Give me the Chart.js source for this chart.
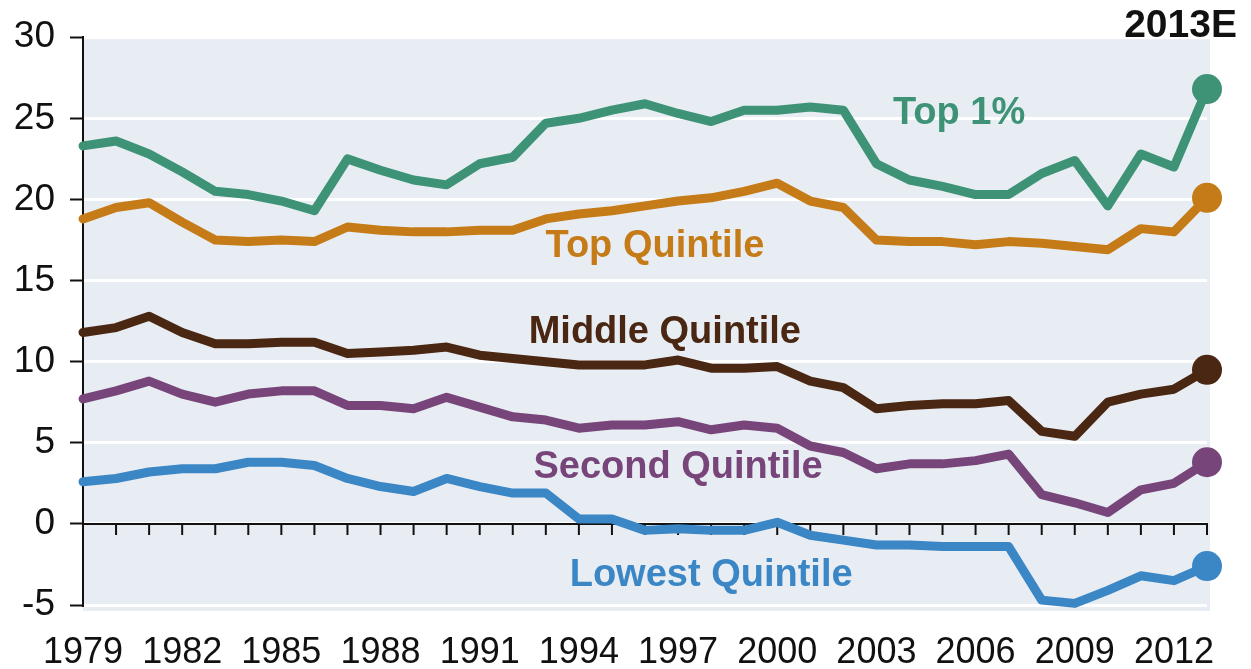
<!DOCTYPE html>
<html>
<head>
<meta charset="utf-8">
<title>Tax rates by income group</title>
<script src="https://cdn.jsdelivr.net/npm/chart.js@4"></script>
<style>
  html, body { margin: 0; padding: 0; background: #ffffff; }
  #chart-wrap { width: 1251px; height: 669px; }
</style>
</head>
<body>
<div id="chart-wrap"><canvas id="my-chart" width="1251" height="669"></canvas></div>
<script>
'use strict';

// ******** DATA **************
let years = [];
for (let y = 1979; y <= 2013; y++) {
  years.push(String(y));
}

let top1Pct = [23.3, 23.6, 22.8, 21.7, 20.5, 20.3, 19.9, 19.3, 22.5, 21.8, 21.2, 20.9,
  22.2, 22.6, 24.7, 25.0, 25.5, 25.9, 25.3, 24.8, 25.5, 25.5, 25.7, 25.5,
  22.2, 21.2, 20.8, 20.3, 20.3, 21.6, 22.4, 19.6, 22.8, 22.0, 26.8];

let topQuintile = [18.8, 19.5, 19.8, 18.6, 17.5, 17.4, 17.5, 17.4, 18.3, 18.1, 18.0, 18.0,
  18.1, 18.1, 18.8, 19.1, 19.3, 19.6, 19.9, 20.1, 20.5, 21.0, 19.9, 19.5,
  17.5, 17.4, 17.4, 17.2, 17.4, 17.3, 17.1, 16.9, 18.2, 18.0, 20.1];

let middleQuintile = [11.8, 12.1, 12.8, 11.8, 11.1, 11.1, 11.2, 11.2, 10.5, 10.6, 10.7, 10.9,
  10.4, 10.2, 10.0, 9.8, 9.8, 9.8, 10.1, 9.6, 9.6, 9.7, 8.8, 8.4,
  7.1, 7.3, 7.4, 7.4, 7.6, 5.7, 5.4, 7.5, 8.0, 8.3, 9.5];

let secondQuintile = [7.7, 8.2, 8.8, 8.0, 7.5, 8.0, 8.2, 8.2, 7.3, 7.3, 7.1, 7.8,
  7.2, 6.6, 6.4, 5.9, 6.1, 6.1, 6.3, 5.8, 6.1, 5.9, 4.8, 4.4,
  3.4, 3.7, 3.7, 3.9, 4.3, 1.8, 1.3, 0.7, 2.1, 2.5, 3.8];

let lowestQuintile = [2.6, 2.8, 3.2, 3.4, 3.4, 3.8, 3.8, 3.6, 2.8, 2.3, 2.0, 2.8,
  2.3, 1.9, 1.9, 0.3, 0.3, -0.4, -0.3, -0.4, -0.4, 0.1, -0.7, -1.0,
  -1.3, -1.3, -1.4, -1.4, -1.4, -4.7, -4.9, -4.1, -3.2, -3.5, -2.6];

let yTicks = [-5, 0, 5, 10, 15, 20, 25, 30];

// ******** STYLE **************
let fontFamily = '"Liberation Sans", Arial, Helvetica, sans-serif';
let colors = {
  top1: '#3e9377',
  top: '#c57b17',
  middle: '#4a2712',
  second: '#77457a',
  lowest: '#3b86c5'
};

// series labels, placed in data units (year, value)
let seriesLabels = [
  { text: 'Top 1%', year: 2005.5, value: 25.3, color: colors.top1 },
  { text: 'Top Quintile', year: 1996.3, value: 17.1, color: colors.top },
  { text: 'Middle Quintile', year: 1996.6, value: 11.8, color: colors.middle },
  { text: 'Second Quintile', year: 1997.0, value: 3.5, color: colors.second },
  { text: 'Lowest Quintile', year: 1998.0, value: -3.2, color: colors.lowest },
  { text: '2013E', year: 2012.2, value: 30.7, color: '#111111' }
];

// ********* HELPERS ****************
function makeSeries(label, data, color) {
  let last = data.length - 1;
  return {
    label: label,
    data: data,
    borderColor: color,
    backgroundColor: color,
    borderWidth: 9,
    borderJoinStyle: 'round',
    borderCapStyle: 'round',
    tension: 0,
    clip: false,
    pointRadius: function (ctx) { return ctx.dataIndex === last ? 15 : 0; },
    pointHoverRadius: 0,
    pointBorderWidth: 0
  };
}

// plot background, a bit wider than the chart area
let plotBackground = {
  id: 'plotBackground',
  beforeDraw: function (chart) {
    let a = chart.chartArea;
    let ctx = chart.ctx;
    ctx.save();
    ctx.fillStyle = '#e8edf4';
    ctx.fillRect(a.left, a.top + 2, a.right - a.left + 3, a.bottom - a.top + 4);
    ctx.restore();
  }
};

// x axis crossing at zero with a tick for every year
let zeroAxis = {
  id: 'zeroAxis',
  beforeDatasetsDraw: function (chart) {
    let xs = chart.scales.x;
    let ys = chart.scales.y;
    let y0 = ys.getPixelForValue(0);
    let ctx = chart.ctx;
    ctx.save();
    ctx.strokeStyle = '#111111';
    ctx.lineWidth = 2;
    ctx.beginPath();
    ctx.moveTo(xs.left, y0);
    ctx.lineTo(xs.right + 1, y0);
    for (let i = 0; i < years.length; i++) {
      let x = xs.getPixelForValue(i);
      ctx.moveTo(x, y0);
      ctx.lineTo(x, y0 + 11);
    }
    ctx.stroke();
    ctx.restore();
  }
};

let labelPlugin = {
  id: 'seriesLabels',
  afterDraw: function (chart) {
    let xs = chart.scales.x;
    let ys = chart.scales.y;
    let ctx = chart.ctx;
    ctx.save();
    ctx.textAlign = 'center';
    ctx.textBaseline = 'middle';
    for (let i = 0; i < seriesLabels.length; i++) {
      let l = seriesLabels[i];
      ctx.font = 'bold ' + (l.text === '2013E' ? 39 : 38) + 'px ' + fontFamily;
      ctx.fillStyle = l.color;
      ctx.fillText(l.text, xs.getPixelForValue(l.year - 1979), ys.getPixelForValue(l.value));
    }
    ctx.restore();
  }
};

// ********* CHART ****************
let canvasElem = document.getElementById('my-chart');

new Chart(canvasElem, {
  type: 'line',
  data: {
    labels: years,
    datasets: [
      makeSeries('Top 1%', top1Pct, colors.top1),
      makeSeries('Top Quintile', topQuintile, colors.top),
      makeSeries('Middle Quintile', middleQuintile, colors.middle),
      makeSeries('Second Quintile', secondQuintile, colors.second),
      makeSeries('Lowest Quintile', lowestQuintile, colors.lowest)
    ]
  },
  options: {
    responsive: false,
    animation: false,
    devicePixelRatio: 1,
    layout: { padding: { top: 35, right: 44, bottom: 0, left: 0 } },
    plugins: {
      legend: { display: false },
      tooltip: { enabled: false },
      title: { display: false }
    },
    scales: {
      x: {
        type: 'category',
        offset: false,
        grid: { display: false, drawTicks: false },
        border: { display: false },
        ticks: {
          autoSkip: false,
          maxRotation: 0,
          minRotation: 0,
          padding: 26,
          color: '#111111',
          font: { family: fontFamily, size: 36 },
          callback: function (value, index) {
            return index % 3 === 0 ? years[index] : '';
          }
        },
        afterFit: function (scale) { scale.height = 64; }
      },
      y: {
        min: -5,
        max: 30,
        afterBuildTicks: function (scale) {
          scale.ticks = yTicks.map(function (v) { return { value: v }; });
        },
        grid: {
          color: '#ffffff',
          lineWidth: 3,
          tickColor: '#111111',
          tickLength: 13,
          tickWidth: 2
        },
        border: { display: true, color: '#111111', width: 2 },
        ticks: {
          padding: 15,
          color: '#111111',
          font: { family: fontFamily, size: 37 }
        },
        afterFit: function (scale) { scale.width = 83; }
      }
    }
  },
  plugins: [plotBackground, zeroAxis, labelPlugin]
});
</script>
</body>
</html>
